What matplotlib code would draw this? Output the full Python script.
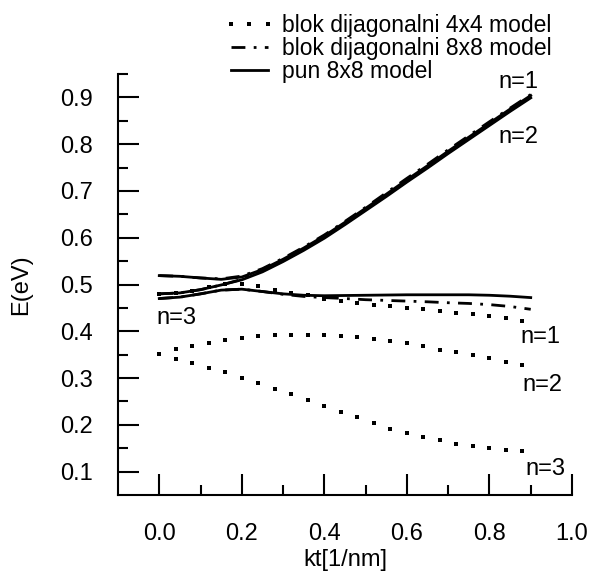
import numpy as np
import matplotlib
matplotlib.use('Agg')
import matplotlib.pyplot as plt

plt.rcParams['font.family'] = ['Liberation Sans', 'DejaVu Sans']
plt.rcParams['lines.scale_dashes'] = False

# pun 8x8 model (solid)
kt_full = [0.0, 0.05, 0.1, 0.15, 0.2, 0.25, 0.3, 0.35, 0.4, 0.45,
           0.5, 0.55, 0.6, 0.65, 0.7, 0.75, 0.8, 0.85, 0.9]
full_a = [0.519, 0.5175, 0.514, 0.511, 0.516, 0.532, 0.554, 0.578, 0.604, 0.633,
          0.663, 0.693, 0.724, 0.754, 0.785, 0.815, 0.845, 0.875, 0.904]
full_b = [0.480, 0.482, 0.489, 0.499, 0.510, 0.527, 0.549, 0.573, 0.599, 0.628,
          0.658, 0.688, 0.719, 0.749, 0.780, 0.810, 0.840, 0.870, 0.899]
full_c = [0.470, 0.473, 0.480, 0.488, 0.490, 0.485, 0.480, 0.477, 0.476, 0.4765,
          0.477, 0.4775, 0.478, 0.478, 0.478, 0.478, 0.477, 0.475, 0.472]

# blok dijagonalni 8x8 model (dash-dot)
bd8_a = [0.519, 0.5175, 0.514, 0.512, 0.518, 0.534, 0.556, 0.580, 0.606, 0.635,
         0.665, 0.696, 0.727, 0.757, 0.788, 0.818, 0.848, 0.877, 0.906]
bd8_b = [0.480, 0.482, 0.489, 0.499, 0.511, 0.529, 0.551, 0.575, 0.601, 0.630,
         0.660, 0.690, 0.721, 0.751, 0.782, 0.812, 0.842, 0.872, 0.901]
bd8_c = [0.470, 0.473, 0.480, 0.488, 0.490, 0.485, 0.479, 0.4745, 0.472, 0.470,
         0.4675, 0.466, 0.4645, 0.463, 0.461, 0.4595, 0.457, 0.453, 0.447]

# blok dijagonalni 4x4 model (dotted)
kt_4 = [0.0, 0.04, 0.08, 0.12, 0.16, 0.2, 0.24, 0.28, 0.32, 0.36, 0.4, 0.44,
        0.48, 0.52, 0.56, 0.6, 0.64, 0.68, 0.72, 0.76, 0.8, 0.84, 0.88]
bd4_1 = [0.480, 0.482, 0.487, 0.494, 0.501, 0.5016, 0.4958, 0.4888, 0.4824, 0.4767, 0.4696, 0.4655,
         0.461, 0.457, 0.454, 0.4504, 0.4468, 0.444, 0.440, 0.4368, 0.4325, 0.429, 0.4227]
bd4_2 = [0.352, 0.3625, 0.3685, 0.375, 0.381, 0.386, 0.390, 0.393, 0.393, 0.393, 0.392, 0.390,
         0.388, 0.383, 0.379, 0.374, 0.3685, 0.361, 0.356, 0.349, 0.342, 0.334, 0.327]
bd4_3 = [0.352, 0.3416, 0.332, 0.322, 0.312, 0.301, 0.2896, 0.2776, 0.2655, 0.2527, 0.2405, 0.2277,
         0.2158, 0.203, 0.192, 0.183, 0.174, 0.167, 0.160, 0.1545, 0.1496, 0.146, 0.144]

labels = ['blok dijagonalni 4x4 model', 'blok dijagonalni 8x8 model', 'pun 8x8 model']
x_ticks = [0.0, 0.2, 0.4, 0.6, 0.8, 1.0]
y_ticks = [0.1, 0.2, 0.3, 0.4, 0.5, 0.6, 0.7, 0.8, 0.9]

fig = plt.figure(figsize=(5.94, 5.71), dpi=100)
ax = fig.add_axes([118 / 594, 1 - 495 / 571, 454 / 594, 421 / 571])

dd = (0, (10, 6, 2, 6))
for i, yv in enumerate([bd4_1, bd4_2, bd4_3]):
    ax.plot(kt_4, yv, ls='none', marker='s', ms=2.6, mew=0, color='black',
            label=labels[0] if i == 0 else None)
for i, yv in enumerate([bd8_a, bd8_b, bd8_c]):
    ax.plot(kt_full, yv, ls=dd, lw=2.0, color='black',
            label=labels[1] if i == 0 else None)
for i, yv in enumerate([full_a, full_b, full_c]):
    ax.plot(kt_full, yv, ls='-', lw=2.0, color='black',
            label=labels[2] if i == 0 else None)

fs = 17
ax.text(0.821, 0.933, 'n=1', fontsize=fs, va='center')
ax.text(0.821, 0.816, 'n=2', fontsize=fs, va='center')
ax.text(-0.007, 0.429, 'n=3', fontsize=fs, va='center')
ax.text(0.876, 0.388, 'n=1', fontsize=fs, va='center')
ax.text(0.881, 0.285, 'n=2', fontsize=fs, va='center')
ax.text(0.886, 0.105, 'n=3', fontsize=fs, va='center')

ax.set_xlim(-0.1, 1.0)
ax.set_ylim(0.05, 0.95)
ax.set_xticks(x_ticks)
ax.set_xticklabels(['%.1f' % v for v in x_ticks])
ax.set_xticks([0.1, 0.3, 0.5, 0.7, 0.9], minor=True)
ax.set_yticks(y_ticks)
ax.set_yticklabels(['%.1f' % v for v in y_ticks])
ax.set_yticks(np.arange(0.15, 0.96, 0.1), minor=True)

for s in ['top', 'right']:
    ax.spines[s].set_visible(False)
for s in ['left', 'bottom']:
    ax.spines[s].set_linewidth(1.5)
ax.tick_params(which='both', direction='in', width=1.5, labelsize=fs)
ax.tick_params(which='major', length=15)
ax.tick_params(which='minor', length=7.5)
ax.tick_params(axis='x', which='major', pad=20)
ax.tick_params(axis='y', which='major', pad=18)

ax.set_xlabel('kt[1/nm]', fontsize=fs, labelpad=3)
ax.set_ylabel('E(eV)', fontsize=fs, labelpad=20)

fig.legend(loc='upper left', bbox_to_anchor=(224 / 594, 1 - 14 / 571), frameon=False,
           fontsize=16.5, numpoints=3, handlelength=2.2, handletextpad=0.35,
           labelspacing=0.0, borderpad=0, borderaxespad=0)

fig.savefig('out.png', dpi=100)
